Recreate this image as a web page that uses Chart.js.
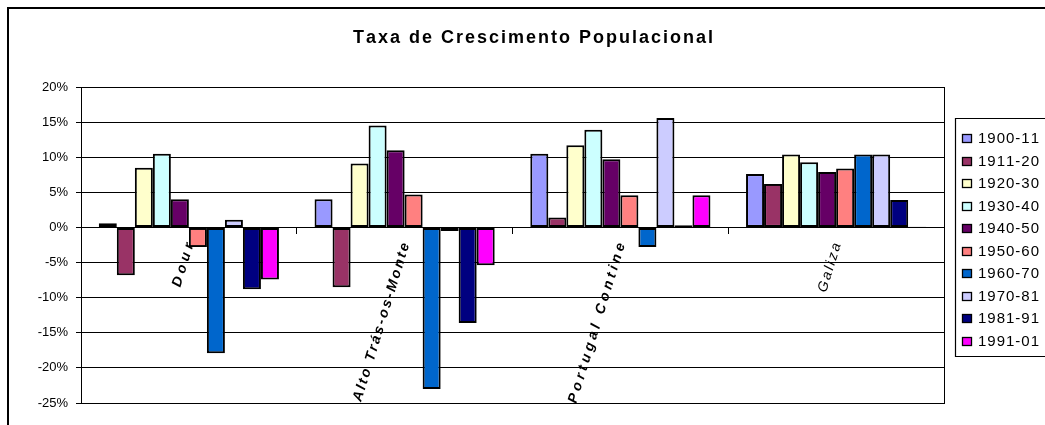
<!DOCTYPE html>
<html>
<head>
<meta charset="utf-8">
<script src="https://cdn.jsdelivr.net/npm/chart.js@4/dist/chart.umd.min.js"></script>
<style>
html,body{margin:0;padding:0;background:#fff;}
#wrap{width:1045px;height:425px;position:relative;}
</style>
</head>
<body>
<div id="wrap"><canvas id="c" width="1045" height="425"></canvas></div>
<script>
const categories = ["Dour", "Alto Trás-os-Monte", "Portugal Contine", "Galiza"];
const periods = ["1900-11","1911-20","1920-30","1930-40","1940-50","1950-60","1960-70","1970-81","1981-91","1991-01"];
const colors = ["#9999FF","#993366","#FFFFCC","#CCFFFF","#660066","#FF8080","#0066CC","#CCCCFF","#000080","#FF00FF"];
// values (%) per period, order = categories
const v1900_11 = [0.6, 4.0, 10.5, 7.6];
const v1911_20 = [-6.8, -8.5, 1.4, 6.2];
const v1920_30 = [8.5, 9.1, 11.7, 10.4];
const v1930_40 = [10.5, 14.5, 13.9, 9.3];
const v1940_50 = [4.0, 11.0, 9.7, 7.9];
const v1950_60 = [-2.8, 4.7, 4.6, 8.4];
const v1960_70 = [-17.9, -23.0, -2.8, 10.4];
const v1970_81 = [1.1, -0.5, 15.6, 10.4];
const v1981_91 = [-8.8, -13.6, 0.3, 3.9];
const v1991_01 = [-7.4, -5.4, 4.6, 0.1];
const seriesValues = [v1900_11, v1911_20, v1920_30, v1930_40, v1940_50, v1950_60, v1960_70, v1970_81, v1981_91, v1991_01];
const yTicks = [20, 15, 10, 5, 0, -5, -10, -15, -20, -25];
const titleText = "Taxa de Crescimento Populacional";

const FONT = "'Liberation Sans', Arial, sans-serif";
const labelFonts = ["italic bold 14px " + FONT, "italic bold 14px " + FONT, "italic bold 14px " + FONT, "italic 14px " + FONT];
const labelSpacing = [4.2, 2.2, 3.6, 2.2];

function spacedWidth(ctx, text, sp) {
  let w = 0;
  for (const ch of text) w += ctx.measureText(ch).width;
  return w + sp * (text.length - 1);
}
function drawSpaced(ctx, text, x, y, sp) {
  let cx = x;
  for (const ch of text) {
    ctx.fillText(ch, cx, y);
    cx += ctx.measureText(ch).width + sp;
  }
}

const datasets = periods.map((p, i) => ({
  label: p,
  data: seriesValues[i],
  backgroundColor: colors[i],
  borderColor: "#000000",
  borderWidth: 2,
  borderSkipped: false,
  categoryPercentage: 0.835,
  barPercentage: 1.0
}));

const framePlugin = {
  id: "frame",
  beforeDraw(chart) {
    const ctx = chart.ctx;
    ctx.save();
    ctx.fillStyle = "#fff";
    ctx.fillRect(0, 0, chart.width, chart.height);
    ctx.strokeStyle = "#000";
    ctx.lineWidth = 2;
    ctx.beginPath();
    ctx.moveTo(8, chart.height + 5);
    ctx.lineTo(8, 8);
    ctx.lineTo(chart.width + 5, 8);
    ctx.stroke();
    // title
    ctx.fillStyle = "#000";
    ctx.font = "bold 18px " + FONT;
    ctx.textAlign = "left";
    ctx.textBaseline = "middle";
    const tw = spacedWidth(ctx, titleText, 2.0);
    drawSpaced(ctx, titleText, 533 - tw / 2, 38, 2.0);
    ctx.restore();
  },
  afterDatasetsDraw(chart) {
    const {ctx, chartArea: a} = chart;
    ctx.save();
    ctx.strokeStyle = "#000";
    ctx.lineWidth = 1;
    ctx.strokeRect(Math.round(a.left) + 0.5, Math.round(a.top) + 0.5, Math.round(a.right - a.left), Math.round(a.bottom - a.top));
    // rotated category labels anchored on the zero line
    const xs = chart.scales.x, ys = chart.scales.y;
    const y0 = ys.getPixelForValue(0);
    const ang = 73 * Math.PI / 180;
    ctx.fillStyle = "#000";
    ctx.textAlign = "left";
    ctx.textBaseline = "middle";
    categories.forEach((c, i) => {
      const x = xs.getPixelForTick(i);
      ctx.font = labelFonts[i];
      const w = spacedWidth(ctx, c, labelSpacing[i]);
      ctx.save();
      ctx.translate(x + 1, y0 + 16);
      ctx.rotate(-ang);
      drawSpaced(ctx, c, -w, 0, labelSpacing[i]);
      ctx.restore();
    });
    ctx.restore();
  },
  afterDraw(chart) {
    const ctx = chart.ctx;
    ctx.save();
    const bx = 955, by = 118, bh = 238;
    ctx.strokeStyle = "#000";
    ctx.lineWidth = 1.2;
    ctx.beginPath();
    ctx.moveTo(chart.width + 2, by + 0.5);
    ctx.lineTo(bx + 0.5, by + 0.5);
    ctx.lineTo(bx + 0.5, by + bh + 0.5);
    ctx.lineTo(chart.width + 2, by + bh + 0.5);
    ctx.stroke();
    ctx.font = "15px " + FONT;
    ctx.textAlign = "left";
    ctx.textBaseline = "middle";
    periods.forEach((p, i) => {
      const y = 138 + i * 22.5;
      ctx.fillStyle = colors[i];
      ctx.fillRect(962, Math.round(y) - 4, 10, 9);
      ctx.strokeStyle = "#000";
      ctx.lineWidth = 1.3;
      ctx.strokeRect(962.5, Math.round(y) - 3.5, 9, 8);
      ctx.fillStyle = "#000";
      drawSpaced(ctx, p, 978, y + 1, 1.0);
    });
    ctx.restore();
  }
};

new Chart(document.getElementById("c"), {
  type: "bar",
  data: { labels: categories, datasets },
  options: {
    responsive: false,
    animation: false,
    devicePixelRatio: 1,
    layout: { padding: { left: 0, right: 101, top: 87, bottom: 22 } },
    plugins: { legend: { display: false }, title: { display: false }, tooltip: { enabled: false } },
    scales: {
      x: {
        position: { y: 0 },
        grid: { display: true, drawOnChartArea: false, drawTicks: true, tickLength: 6, color: "#000", offset: true },
        border: { display: true, color: "#000", width: 1 },
        ticks: { display: false, autoSkip: false }
      },
      y: {
        min: -25, max: 20,
        afterFit(scale) { scale.width = 81; },
        afterBuildTicks(scale) { scale.ticks = yTicks.map(v => ({ value: v })); },
        grid: { color: "#000", lineWidth: 1, tickLength: 5, drawTicks: true },
        border: { display: true, color: "#000", width: 1 },
        ticks: {
          color: "#000", padding: 8,
          font: { family: FONT, size: 13 },
          callback: (v) => v + "%"
        }
      }
    }
  },
  plugins: [framePlugin]
});
</script>
</body>
</html>
